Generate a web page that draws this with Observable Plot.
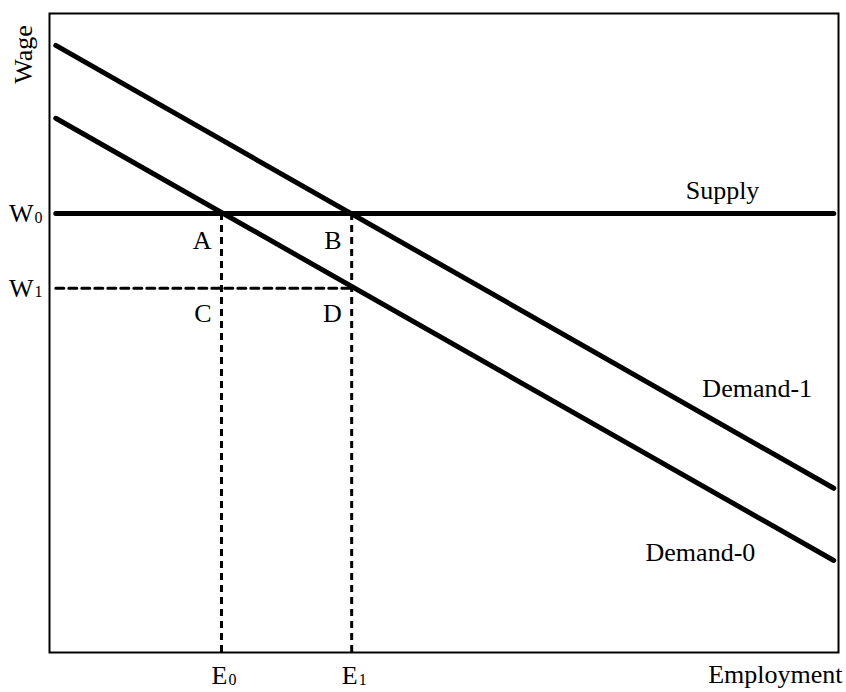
<!DOCTYPE html>
<html>
<head>
<meta charset="utf-8">
<script src="https://cdn.jsdelivr.net/npm/d3@7"></script>
<script src="https://cdn.jsdelivr.net/npm/@observablehq/plot@0.6"></script>
<style>
  html, body { margin: 0; padding: 0; background: #fff; }
  svg text { font-family: "Liberation Serif", "DejaVu Serif", serif; }
</style>
</head>
<body>
<div id="chart"></div>
<script>
// Employment positions (x, 0–100) and wage levels (y, 0–100)
const lineEmployment = [0.8, 99.4];
const demand1Wage = [95.0, 25.7];
const demand0Wage = [83.6, 14.4];
const supplyWage = 68.7;
const w1Wage = 57.0;
const eLevels = [21.8, 38.3];
const eSubscripts = ["0", "1"];
const wLevels = [supplyWage, w1Wage];
const wSubscripts = ["0", "1"];
const pointLabels = ["A", "B", "C", "D"];
const pointE = [eLevels[0], eLevels[1], eLevels[0], eLevels[1]];
const pointW = [64.5, 64.5, 53.0, 53.0];
const curveLabels = ["Supply", "Demand-1", "Demand-0"];
const curveLabelX = [85.3, 89.7, 82.5];
const curveLabelY = [72.3, 41.3, 15.6];

const demand1 = lineEmployment.map((x, i) => ({x, y: demand1Wage[i]}));
const demand0 = lineEmployment.map((x, i) => ({x, y: demand0Wage[i]}));
const supply = lineEmployment.map(x => ({x, y: supplyWage}));
const w1Line = [{x: lineEmployment[0], y: w1Wage}, {x: eLevels[1], y: w1Wage}];

const fs = 26;
const sub = 16;
const chart = Plot.plot({
  width: 846,
  height: 692,
  marginLeft: 49,
  marginRight: 8,
  marginTop: 13,
  marginBottom: 40,
  x: {domain: [0, 100], axis: null},
  y: {domain: [0, 100], axis: null},
  style: {fontFamily: "Liberation Serif, serif", background: "#fff"},
  marks: [
    Plot.frame({stroke: "#000", strokeWidth: 2}),
    // dashed guides
    Plot.ruleX(eLevels, {y1: 0, y2: supplyWage, stroke: "#000", strokeWidth: 3, strokeDasharray: "7,5"}),
    Plot.line(w1Line, {x: "x", y: "y", stroke: "#000", strokeWidth: 3, strokeDasharray: "8,5"}),
    // curves
    Plot.line(supply, {x: "x", y: "y", stroke: "#000", strokeWidth: 5}),
    Plot.line(demand1, {x: "x", y: "y", stroke: "#000", strokeWidth: 5}),
    Plot.line(demand0, {x: "x", y: "y", stroke: "#000", strokeWidth: 5}),
    // curve and point labels
    Plot.text(curveLabels, {x: (d, i) => curveLabelX[i], y: (d, i) => curveLabelY[i], text: d => d, fontSize: fs, fill: "#000"}),
    Plot.text(pointLabels, {x: (d, i) => pointE[i], y: (d, i) => pointW[i], text: d => d, textAnchor: "end", dx: -10, fontSize: fs, fill: "#000"}),
    // W labels with subscripts
    Plot.text(wLevels, {x: 0, y: d => d, text: () => "W", textAnchor: "end", dx: -16, fontSize: fs, fill: "#000"}),
    Plot.text(wLevels, {x: 0, y: d => d, text: (d, i) => wSubscripts[i], textAnchor: "end", dx: -7, dy: 4, fontSize: sub, fill: "#000"}),
    // E labels with subscripts
    Plot.text(eLevels, {x: d => d, y: 0, text: () => "E", textAnchor: "end", dx: 6, dy: 23, fontSize: fs, fill: "#000"}),
    Plot.text(eLevels, {x: d => d, y: 0, text: (d, i) => eSubscripts[i], textAnchor: "start", dx: 7, dy: 27, fontSize: sub, fill: "#000"}),
    // axis titles
    Plot.text(["Employment"], {x: 100, y: 0, text: d => d, textAnchor: "end", dx: 4, dy: 22, fontSize: fs, fill: "#000"}),
    Plot.text(["Wage"], {x: -3.3, y: 93.6, text: d => d, rotate: -90, fontSize: fs, fill: "#000"})
  ]
});
document.getElementById("chart").appendChild(chart);
</script>
</body>
</html>
